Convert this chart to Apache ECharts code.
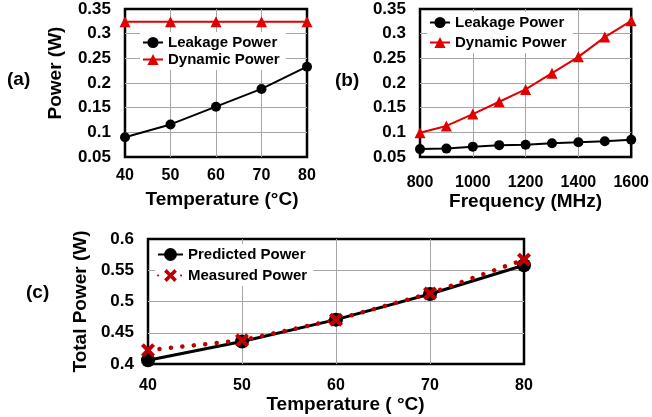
<!DOCTYPE html>
<html><head><meta charset="utf-8">
<script src="https://cdn.jsdelivr.net/npm/echarts@6/dist/echarts.min.js"></script>
<style>html,body{margin:0;padding:0;background:#fff}#c{width:652px;height:417px}</style>
</head><body><div id="c"></div>
<script>
// Panel (a): power vs temperature
const tempA = [40, 50, 60, 70, 80];
const leakA = [0.090, 0.116, 0.152, 0.188, 0.233];
const dynA = [0.324, 0.324, 0.324, 0.324, 0.324];
// Panel (b): power vs frequency
const freqB = [800, 900, 1000, 1100, 1200, 1300, 1400, 1500, 1600];
const leakB = [0.066, 0.067, 0.071, 0.074, 0.075, 0.078, 0.080, 0.082, 0.085];
const dynB = [0.099, 0.113, 0.137, 0.162, 0.187, 0.220, 0.253, 0.293, 0.326];
// Panel (c): total power vs temperature
const tempC = [40, 50, 60, 70, 80];
const predC = [0.406, 0.436, 0.471, 0.512, 0.558];
const measC = [0.422, 0.438, 0.471, 0.513, 0.567];

const FONT = '"Liberation Sans", Arial, sans-serif';
const GRIDC = '#a6a6a6';
const RED = '#e00000';
const RED2 = '#c00000';
const XSYM = 'path://M2,0 L5,3 L8,0 L10,2 L7,5 L10,8 L8,10 L5,7 L2,10 L0,8 L3,5 L0,2 Z';

const zip = (xs, ys) => xs.map((x, i) => [x, ys[i]]);
const plain = v => String(v);

function split() {
  return {show: true, showMinLine: false, showMaxLine: false, lineStyle: {color: GRIDC, width: 1}};
}
function xAx(gi, min, max, interval, name, margin, nameGap, pad) {
  return {
    type: 'value', gridIndex: gi, min, max, interval,
    name, nameLocation: 'middle', nameGap,
    nameTextStyle: {fontFamily: FONT, fontWeight: 'bold', fontSize: 19, color: '#000', padding: pad},
    axisLine: {show: false}, axisTick: {show: false},
    axisLabel: {margin, formatter: plain, fontFamily: FONT, fontWeight: 'bold', fontSize: 16, color: '#000'},
    splitLine: split()
  };
}
function yAx(gi, min, max, interval, name, nameGap, pad) {
  return {
    type: 'value', gridIndex: gi, min, max, interval,
    name, nameLocation: 'middle', nameGap,
    nameTextStyle: {fontFamily: FONT, fontWeight: 'bold', fontSize: 19, color: '#000', padding: pad},
    axisLine: {show: false}, axisTick: {show: false},
    axisLabel: {margin: 14, fontFamily: FONT, fontWeight: 'bold', fontSize: 17, color: '#000'},
    splitLine: split()
  };
}
function legend(names, left, top, gap, iw, ih) {
  return {
    data: names, orient: 'vertical', left, top, itemGap: gap, itemWidth: iw, itemHeight: ih,
    backgroundColor: '#fff', padding: [3, 6, 3, 2], selectedMode: false,
    textStyle: {fontFamily: FONT, fontWeight: 'bold', fontSize: 15, color: '#000', lineHeight: 15}
  };
}
const gridBase = {show: true, borderColor: '#000', borderWidth: 2.5, backgroundColor: 'transparent', containLabel: false};

const chart = echarts.init(document.getElementById('c'));
chart.setOption({
  animation: false,
  backgroundColor: '#fff',
  grid: [
    Object.assign({left: 125, top: 9, width: 182, height: 148}, gridBase),
    Object.assign({left: 420, top: 9, width: 214, height: 148}, gridBase),
    Object.assign({left: 148, top: 239, width: 376, height: 125}, gridBase)
  ],
  xAxis: [
    xAx(0, 40, 80, 10, 'Temperature (°C)', 11, 33, [0, 0, 0, 12]),
    xAx(1, 800, 1600, 200, 'Frequency (MHz)', 18, 35, [0, 0, 0, 0]),
    xAx(2, 40, 80, 10, 'Temperature ( °C)', 14, 28, [0, 0, 0, 19])
  ],
  yAxis: [
    yAx(0, 0.05, 0.35, 0.05, 'Power (W)', 60, [0, 0, 0, 20]),
    yAx(1, 0.05, 0.35, 0.05, '', 50, 0),
    yAx(2, 0.4, 0.6, 0.05, 'Total Power (W)', 55, 0)
  ],
  legend: [
    legend(['Leakage Power', 'Dynamic Power'], 140, 32, 2, 20, 14),
    legend(['Leakage Power', 'Dynamic Power'], 427, 12, 5, 20, 14),
    legend(['Predicted Power', 'Measured Power'], 155, 244, 6, 25, 16)
  ],
  graphic: [
    {type: 'text', left: 7, top: 70, style: {text: '(a)', font: 'bold 19px ' + FONT, fill: '#000'}},
    {type: 'text', left: 335, top: 71, style: {text: '(b)', font: 'bold 19px ' + FONT, fill: '#000'}},
    {type: 'text', left: 26, top: 283, style: {text: '(c)', font: 'bold 19px ' + FONT, fill: '#000'}}
  ],
  series: [
    {name: 'Leakage Power', type: 'line', xAxisIndex: 0, yAxisIndex: 0, data: zip(tempA, leakA),
     symbol: 'circle', symbolSize: 10, itemStyle: {color: '#000'}, lineStyle: {color: '#000', width: 2}},
    {name: 'Dynamic Power', type: 'line', xAxisIndex: 0, yAxisIndex: 0, data: zip(tempA, dynA),
     symbol: 'triangle', symbolSize: 11, itemStyle: {color: RED}, lineStyle: {color: RED, width: 2}},
    {name: 'Leakage Power', type: 'line', xAxisIndex: 1, yAxisIndex: 1, data: zip(freqB, leakB),
     symbol: 'circle', symbolSize: 10, itemStyle: {color: '#000'}, lineStyle: {color: '#000', width: 2}},
    {name: 'Dynamic Power', type: 'line', xAxisIndex: 1, yAxisIndex: 1, data: zip(freqB, dynB),
     symbol: 'triangle', symbolSize: 11, itemStyle: {color: RED}, lineStyle: {color: RED, width: 2}},
    {name: 'Predicted Power', type: 'line', xAxisIndex: 2, yAxisIndex: 2, data: zip(tempC, predC),
     symbol: 'circle', symbolSize: 14, itemStyle: {color: '#000'}, lineStyle: {color: '#000', width: 3}},
    {name: 'Measured Power', type: 'line', xAxisIndex: 2, yAxisIndex: 2, data: zip(tempC, measC),
     symbol: XSYM, symbolSize: 14, itemStyle: {color: RED2},
     lineStyle: {color: RED2, width: 4.5, type: [0.1, 11.4], cap: 'round'}}
  ]
});
</script>
</body></html>
